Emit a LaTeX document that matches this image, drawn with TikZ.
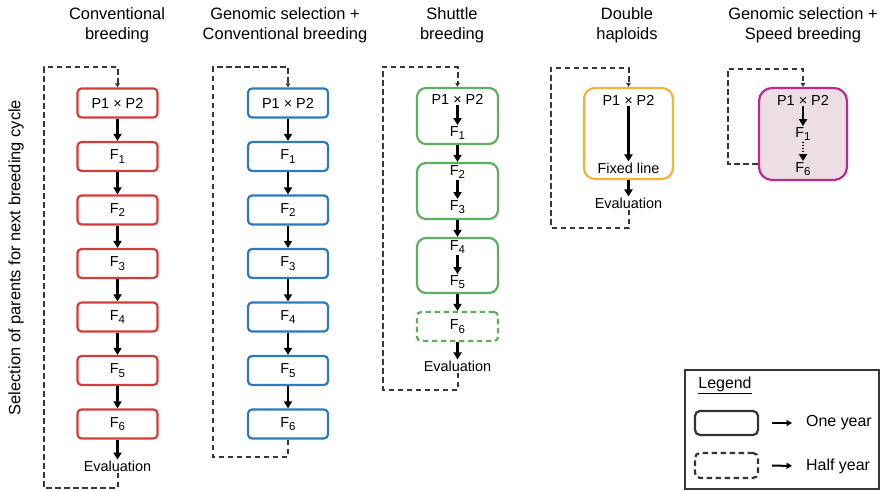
\documentclass[tikz,border=0pt]{standalone}
\usepackage{fontspec}
\setmainfont{Liberation Sans}
\usetikzlibrary{positioning, calc, arrows.meta}
\definecolor{cvred}{RGB}{212,60,60}
\definecolor{gsblue}{RGB}{45,122,190}
\definecolor{shgreen}{RGB}{96,172,96}
\definecolor{dhorange}{RGB}{242,180,52}
\definecolor{spmag}{RGB}{190,42,140}
\definecolor{sppink}{RGB}{236,222,228}
\definecolor{loopgray}{RGB}{55,55,55}
\newcommand{\Fg}[1]{F\raisebox{-0.45ex}{\fontsize{11.5}{12}\selectfont #1}}
\tikzstyle{Box} = [
rectangle, draw, rounded corners=4bp,
line width=2.2bp,
minimum width=80bp, minimum height=29bp,
inner sep=0pt,
font=\fontsize{14.5}{16}\selectfont]
\tikzstyle{Big} = [Box, rounded corners=9bp, minimum width=81bp]
\tikzstyle{Label} = [inner sep=1bp, font=\fontsize{14.5}{16}\selectfont]
\tikzstyle{Title} = [align=center, font=\fontsize{16.5}{20}\selectfont]
\tikzstyle{Arrow} = [line width=2.4bp, -{Triangle[length=7bp, width=8bp]}]
\tikzstyle{Back} = [line width=2bp, loopgray,
dash pattern=on 5.5bp off 3.5bp,
-{Triangle[length=4bp, width=4.5bp]}]
\tikzstyle{LegArrow} = [line width=2bp, -{Triangle[length=5.5bp, width=6bp]},
shorten <=13bp, shorten >=13bp]

\begin{document}
\begin{tikzpicture}[x=1bp, y=-1bp, node distance=22.3bp]
    \useasboundingbox (0,0) rectangle (883,491);
    % titles
    \node [Title] (t1) at (117,25) {Conventional\\breeding};
    \node [Title] (t2) at (285,25) {Genomic selection +\\Conventional breeding};
    \node [Title] (t3) at (452,25) {Shuttle\\breeding};
    \node [Title] (t4) at (627,25) {Double\\haploids};
    \node [Title] (t5) at (803,25) {Genomic selection +\\Speed breeding};
    \node [Label, rotate=90, font=\fontsize{16.5}{18}\selectfont] (sel) at (16,257.5)
        {Selection of parents for next breeding cycle};
    % conventional breeding
    \node [Box, draw=cvred] (c1p) at (117.5,103) {P1 × P2};
    \node [Box, draw=cvred, below =of c1p] (c1f1) {\Fg{1}};
    \node [Box, draw=cvred, below =of c1f1] (c1f2) {\Fg{2}};
    \node [Box, draw=cvred, below =of c1f2] (c1f3) {\Fg{3}};
    \node [Box, draw=cvred, below =of c1f3] (c1f4) {\Fg{4}};
    \node [Box, draw=cvred, below =of c1f4] (c1f5) {\Fg{5}};
    \node [Box, draw=cvred, below =of c1f5] (c1f6) {\Fg{6}};
    \node [Label, below =20bp of c1f6] (c1e) {Evaluation};
    \draw[Arrow] (c1p) to (c1f1);
    \draw[Arrow] (c1f1) to (c1f2);
    \draw[Arrow] (c1f2) to (c1f3);
    \draw[Arrow] (c1f3) to (c1f4);
    \draw[Arrow] (c1f4) to (c1f5);
    \draw[Arrow] (c1f5) to (c1f6);
    \draw[Arrow] (c1f6) to (c1e);
    \draw[Back] (c1e.south) |- (44,488) |- ([yshift=20bp]c1p.north) -- (c1p.north);
    % genomic selection + conventional breeding
    \node [Box, draw=gsblue] (c2p) at (288,103) {P1 × P2};
    \node [Box, draw=gsblue, below =of c2p] (c2f1) {\Fg{1}};
    \node [Box, draw=gsblue, below =of c2f1] (c2f2) {\Fg{2}};
    \node [Box, draw=gsblue, below =of c2f2] (c2f3) {\Fg{3}};
    \node [Box, draw=gsblue, below =of c2f3] (c2f4) {\Fg{4}};
    \node [Box, draw=gsblue, below =of c2f4] (c2f5) {\Fg{5}};
    \node [Box, draw=gsblue, below =of c2f5] (c2f6) {\Fg{6}};
    \draw[Arrow] (c2p) to (c2f1);
    \draw[Arrow] (c2f1) to (c2f2);
    \draw[Arrow] (c2f2) to (c2f3);
    \draw[Arrow] (c2f3) to (c2f4);
    \draw[Arrow] (c2f4) to (c2f5);
    \draw[Arrow] (c2f5) to (c2f6);
    \draw[Back] (c2f6.south) |- (213,457) |- ([yshift=20bp]c2p.north) -- (c2p.north);
    % shuttle breeding
    \node [Big, draw=shgreen, minimum height=56bp] (s1) at (457.5,116) {};
    \node [Big, draw=shgreen, minimum height=56bp] (s2) at (457.5,191) {};
    \node [Big, draw=shgreen, minimum height=55bp] (s3) at (457.5,265.5) {};
    \node [Box, draw=shgreen, dash pattern=on 5.5bp off 3.5bp,
        minimum width=81bp] (s6) at (457.5,326.5) {\Fg{6}};
    \node [Label] (s1p) at (457.5,99) {P1 × P2};
    \node [Label] (s1f) at (457.5,133) {\Fg{1}};
    \node [Label] (s2f) at (457.5,172) {\Fg{2}};
    \node [Label] (s2g) at (457.5,207) {\Fg{3}};
    \node [Label] (s3f) at (457.5,247) {\Fg{4}};
    \node [Label] (s3g) at (457.5,282) {\Fg{5}};
    \node [Label] (se) at (457.5,366) {Evaluation};
    \draw[Arrow] (s1p) to (s1f);
    \draw[Arrow] (s1) to (s2);
    \draw[Arrow] (s2f) to (s2g);
    \draw[Arrow] (s2) to (s3);
    \draw[Arrow] (s3f) to (s3g);
    \draw[Arrow] (s3) to (s6);
    \draw[Arrow] (s6) to (se);
    \draw[Back] (se.south) |- (383,390) |- ([yshift=20bp]s1.north) -- (s1.north);
    % double haploids
    \node [Big, draw=dhorange, rounded corners=11bp, minimum width=89bp,
        minimum height=91bp] (d1) at (628.5,133.5) {};
    \node [Label] (dp) at (628.5,100) {P1 × P2};
    \node [Label] (df) at (628.5,168) {Fixed line};
    \node [Label] (de) at (628.5,203) {Evaluation};
    \draw[Arrow] (dp) to (df);
    \draw[Arrow] (d1) to (de);
    \draw[Back] (de.south) |- (551,228) |- ([yshift=19bp]d1.north) -- (d1.north);
    % genomic selection + speed breeding
    \node [Big, draw=spmag, fill=sppink, rounded corners=13bp, minimum width=88bp,
        minimum height=92bp] (g1) at (803,134) {};
    \node [Label] (gp) at (803,100) {P1 × P2};
    \node [Label] (gf1) at (803,134) {\Fg{1}};
    \node [Label] (gf6) at (803,169) {\Fg{6}};
    \draw[Arrow] (gp) to (gf1);
    \draw[Arrow, dash pattern=on 1.5bp off 1.5bp] (gf1) to (gf6);
    \draw[Back] ([yshift=-30bp]g1.west) -- ++(-30,0) |- ([yshift=18bp]g1.north) -- (g1.north);
    % legend
    \node [draw=loopgray, line width=1.8bp, minimum width=194bp,
        minimum height=119bp] (lg) at (782,429.5) {};
    \node [Label, font=\fontsize{16}{18}\selectfont] (lgt) at (725,385) {\underline{Legend}};
    \node [Box, draw=black!80, rounded corners=5bp, minimum width=63bp,
        minimum height=24bp] (lg1) at (726.5,423) {};
    \node [Box, draw=black!80, rounded corners=5bp, dash pattern=on 5.5bp off 3.5bp,
        minimum width=63bp, minimum height=25bp] (lg2) at (726.5,465.5) {};
    \node [Label, anchor=west, font=\fontsize{16}{18}\selectfont] (lg1t) at (805,423) {One year};
    \node [Label, anchor=west, font=\fontsize{16}{18}\selectfont] (lg2t) at (805,466) {Half year};
    \draw[LegArrow] (lg1) to (lg1t);
    \draw[LegArrow] (lg2) to (lg2t);
\end{tikzpicture}
\end{document}
